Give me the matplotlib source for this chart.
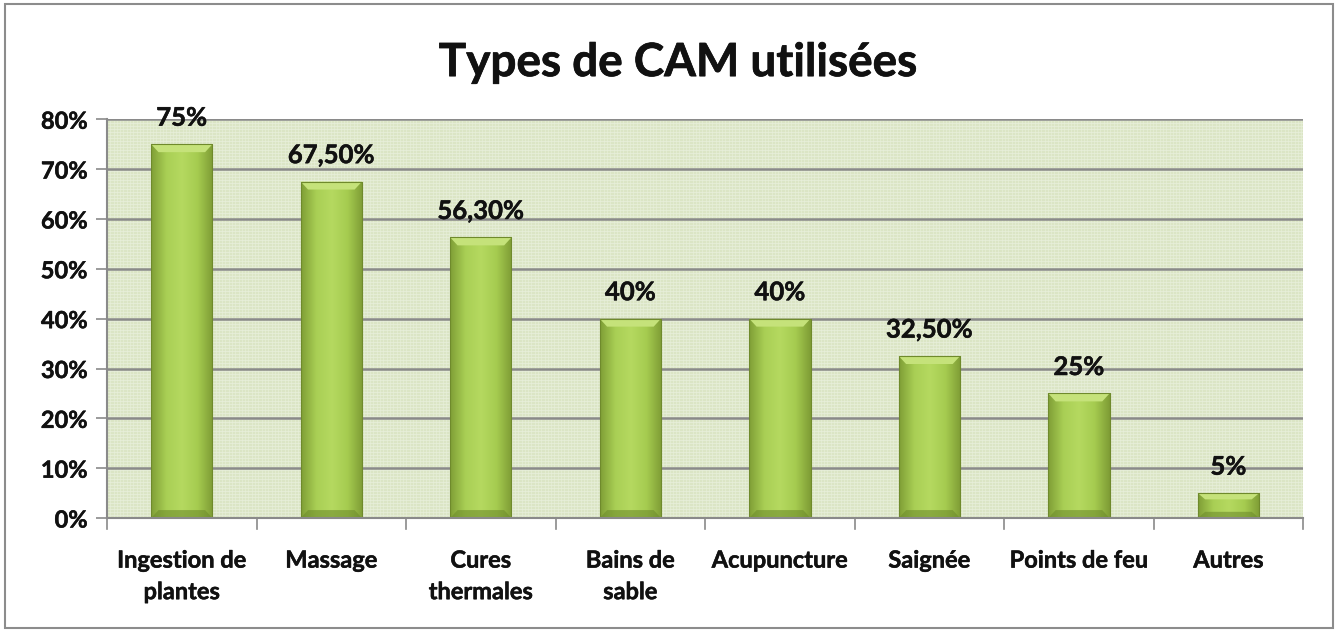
import numpy as np
import matplotlib
matplotlib.use("Agg")
import matplotlib.pyplot as plt
import matplotlib.patheffects as pe
from matplotlib.patches import Rectangle
from matplotlib.colors import LinearSegmentedColormap

categories = ["Ingestion de\nplantes", "Massage", "Cures\nthermales", "Bains de\nsable",
              "Acupuncture", "Saignée", "Points de feu", "Autres"]
values = [75, 67.5, 56.3, 40, 40, 32.5, 25, 5]
labels = ["75%", "67,50%", "56,30%", "40%", "40%", "32,50%", "25%", "5%"]
yticks = [0, 10, 20, 30, 40, 50, 60, 70, 80]

plt.rcParams['font.family'] = ['Lato', 'DejaVu Sans']
W = "bold"
TXT = "#111111"
thick = [pe.withStroke(linewidth=0.35, foreground=TXT)]
fig = plt.figure(figsize=(13.38, 6.31), dpi=100)
ax = fig.add_axes([0.080, 0.179, 0.894, 0.632])

# figure border
fig.patches.append(Rectangle((0.004, 0.004), 0.992, 0.99, transform=fig.transFigure,
                             fill=False, edgecolor="#8c8c8c", linewidth=1.5))

ax.set_facecolor("#dbe5c5")
ax.set_xlim(-0.5, len(categories) - 0.5)
ax.set_ylim(0, 80)

# subtle background pattern
ax.grid(False)
for yy in np.arange(0, 80, 0.6):
    ax.axhline(yy, color="#e9f0dc", lw=0.5, zorder=0.5)
for xx in np.arange(-0.5, 7.5, 0.022):
    ax.axvline(xx, color="#e9f0dc", lw=0.4, zorder=0.5)

for t in yticks[1:]:
    ax.axhline(t, color="#8a8a8a", lw=1.8, zorder=1)

cmap = LinearSegmentedColormap.from_list("g", ["#7f9e36", "#a9cf55", "#b5d960", "#a6cc50", "#7e9c35"])
grad = np.linspace(0, 1, 256).reshape(1, -1)
width = 0.41
x = np.arange(len(categories))
bars = ax.bar(x, values, width=width, color="#a4c94e", edgecolor="#6f8a2c", linewidth=0.6, zorder=2)
for b in bars:
    x0, w, h = b.get_x(), b.get_width(), b.get_height()
    im = ax.imshow(grad, cmap=cmap, extent=(x0, x0 + w, 0, h), aspect="auto", zorder=2.1,
                   interpolation="bicubic")
    im.set_clip_path(b)
    bev = min(1.6, h * 0.25)
    ax.fill([x0, x0 + w, x0 + w * 0.88, x0 + w * 0.12], [h, h, h - bev, h - bev],
            color="#c5e27a", zorder=2.2, lw=0)
    ax.fill([x0, x0 + w, x0 + w * 0.88, x0 + w * 0.12], [0, 0, bev, bev],
            color="#6e8c2c", alpha=0.6, zorder=2.2, lw=0)
    ax.add_patch(Rectangle((x0, 0), w, h, fill=False, edgecolor="#6f8a2c", lw=0.8, zorder=2.3))

for xi, v, lab in zip(x, values, labels):
    ax.text(xi, v + 5.3, lab, ha="center", va="center", fontsize=18.5, fontweight=W,
            color=TXT, zorder=4, path_effects=thick)

ax.set_yticks(yticks)
ax.set_yticklabels([f"{t}%" for t in yticks], fontsize=17, fontweight=W, color=TXT)
ax.set_xticks(x)
ax.set_xticklabels(categories, fontsize=17, fontweight=W, linespacing=1.45, color=TXT)
for lab in ax.get_xticklabels() + ax.get_yticklabels():
    lab.set_path_effects(thick)
ax.tick_params(axis="x", length=0, pad=22)
ax.tick_params(axis="y", length=8, width=1.2, color="#8a8a8a", pad=6)
for b in np.arange(-0.5, 8.0, 1.0):
    ax.plot([b, b], [0, -2.1], color="#8a8a8a", lw=1.2, clip_on=False, zorder=3)
for s in ["top", "right"]:
    ax.spines[s].set_visible(False)
ax.spines["left"].set_color("#8a8a8a")
ax.spines["bottom"].set_color("#8a8a8a")
ax.spines["left"].set_linewidth(1.5)
ax.spines["bottom"].set_linewidth(1.5)

fig.text(0.507, 0.900, "Types de CAM utilisées", ha="center", va="center",
         fontsize=33, fontweight=W, color=TXT,
         path_effects=[pe.withStroke(linewidth=0.5, foreground=TXT)])

fig.savefig("out.png", dpi=100)
